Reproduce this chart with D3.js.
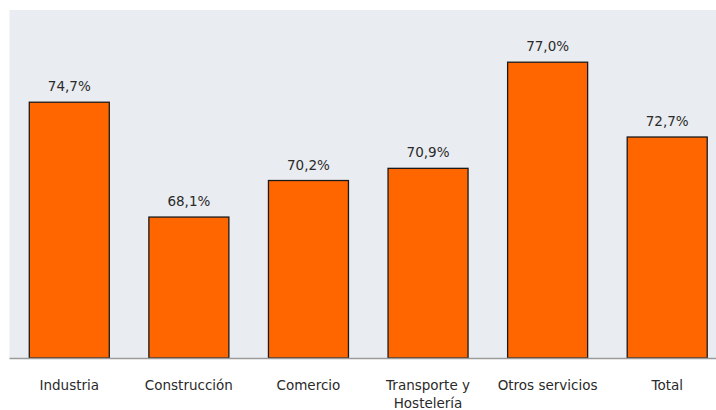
<!DOCTYPE html>
<html>
<head>
<meta charset="utf-8">
<script src="https://cdn.jsdelivr.net/npm/d3@7"></script>
<style>
  body { margin: 0; background: #fff; }
  text { font-family: "DejaVu Sans", Verdana, sans-serif; }
</style>
</head>
<body>
<svg id="chart" width="716" height="410"></svg>
<script>
// chart data
const categories = ["Industria", "Construcción", "Comercio", "Transporte y\nHostelería", "Otros servicios", "Total"];
const values = [74.7, 68.1, 70.2, 70.9, 77.0, 72.7];

const svg = d3.select("#chart");
const plotLeft = 9.5, plotRight = 727, plotTop = 10, plotBottom = 358;

const x = d3.scaleBand()
  .domain(categories)
  .range([plotLeft, plotRight])
  .paddingInner(0.331)
  .paddingOuter(0.1655);

const y = d3.scaleLinear()
  .domain([60, 80])
  .range([plotBottom, plotTop]);

// plot background
svg.append("rect")
  .attr("x", plotLeft)
  .attr("y", plotTop)
  .attr("width", plotRight - plotLeft)
  .attr("height", plotBottom - plotTop)
  .style("fill", "#e9ecf0");

const data = categories.map((c, i) => ({ cat: c, val: values[i] }));

svg.selectAll("rect.bar").data(data).enter()
  .append("rect")
  .attr("class", "bar")
  .attr("x", d => x(d.cat))
  .attr("y", d => y(d.val))
  .attr("width", x.bandwidth())
  .attr("height", d => y(60) - y(d.val))
  .style("fill", "#ff6600")
  .style("stroke", "#1a1a1a")
  .style("stroke-width", 1.3);

// baseline
svg.append("line")
  .attr("x1", plotLeft)
  .attr("x2", plotRight)
  .attr("y1", plotBottom + 0.5)
  .attr("y2", plotBottom + 0.5)
  .style("stroke", "#9a9a9a")
  .style("stroke-width", 1.5);

// value labels
svg.selectAll("text.val").data(data).enter()
  .append("text")
  .attr("class", "val")
  .attr("x", d => x(d.cat) + x.bandwidth() / 2)
  .attr("y", d => y(d.val) - 11)
  .attr("text-anchor", "middle")
  .style("font-size", "13.5px")
  .style("fill", "#2a2a2a")
  .text(d => d3.format(".1f")(d.val).replace(".", ",") + "%");

// category labels
const catLabels = svg.selectAll("text.cat").data(data).enter()
  .append("text")
  .attr("class", "cat")
  .attr("x", d => x(d.cat) + x.bandwidth() / 2)
  .attr("y", 390)
  .attr("text-anchor", "middle")
  .style("font-size", "13.5px")
  .style("fill", "#2a2a2a");

catLabels.each(function (d) {
  const lines = d.cat.split("\n");
  const t = d3.select(this);
  lines.forEach((ln, i) => {
    t.append("tspan")
      .attr("x", x(d.cat) + x.bandwidth() / 2)
      .attr("dy", i === 0 ? 0 : 18)
      .text(ln);
  });
});
</script>
</body>
</html>
